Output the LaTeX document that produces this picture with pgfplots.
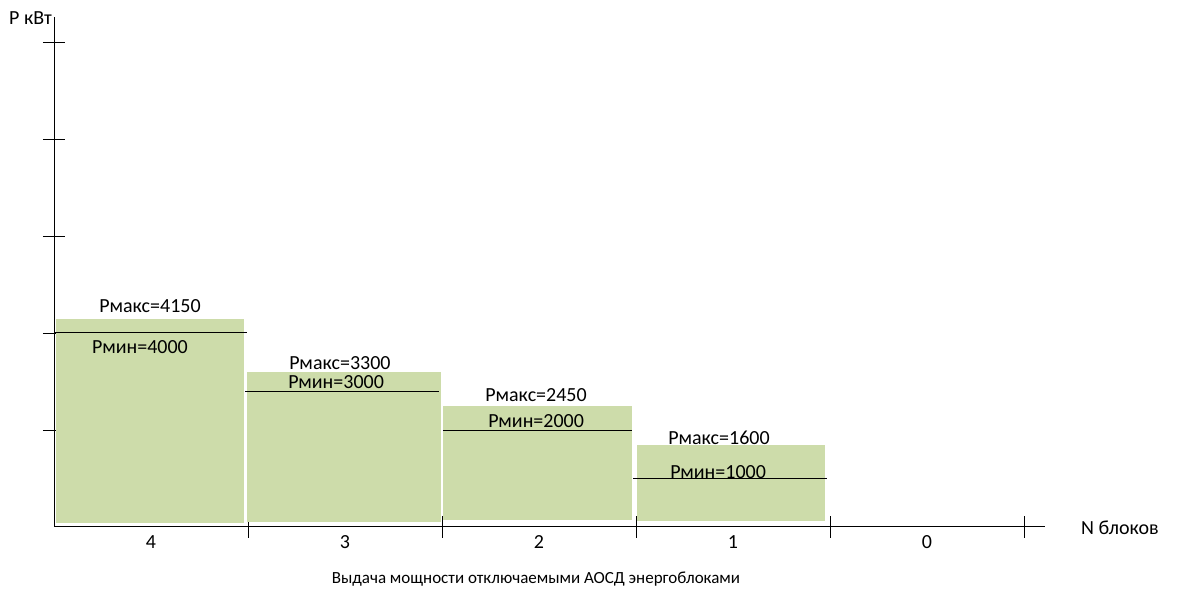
\documentclass[border=0pt]{standalone}
\usepackage{pgfplots}
\pgfplotsset{compat=1.18}
\usepackage{fontspec}
\setmainfont{Carlito}
\definecolor{barg}{RGB}{205,220,170}
\begin{document}
\begin{tikzpicture}[font=\fontsize{20}{24}\selectfont]
\useasboundingbox (0,0) rectangle (1179pt,595pt);
\begin{axis}[
 at={(54pt,68pt)}, anchor=south west,
 scale only axis, width=991pt, height=510pt,
 xmin=0, xmax=5.108, ymin=0, ymax=10515,
 scaled y ticks=false, scaled x ticks=false,
 axis x line*=bottom, axis y line*=left,
 axis line style={black, line width=1pt},
 xtick={1,2,3,4,5}, xticklabels={},
 ytick={2000,4000,6000,8000,10000}, yticklabels={},
 tick align=center, major tick length=22pt,
 tick style={black, line width=0.8pt},
 extra x ticks={0.5,1.5,2.5,3.5,4.5},
 extra x tick labels={4,3,2,1,0},
 extra x tick style={major tick length=0pt, tick label style={yshift=-5pt}},
 no markers,
 clip=false,
]
\addplot[fill=barg, draw=none] coordinates {(0.01,82)(0.98,82)(0.98,4290)(0.01,4290)};
\addplot[fill=barg, draw=none] coordinates {(0.995,103)(1.995,103)(1.995,3196)(0.995,3196)};
\addplot[fill=barg, draw=none] coordinates {(2.005,144)(2.979,144)(2.979,2495)(2.005,2495)};
\addplot[fill=barg, draw=none] coordinates {(3.005,124)(3.974,124)(3.974,1691)(3.005,1691)};
\addplot[black, line width=1pt] coordinates {(0,4000)(0.995,4000)};
\addplot[black, line width=1pt] coordinates {(0.985,2784)(1.985,2784)};
\addplot[black, line width=1pt] coordinates {(2.005,1980)(2.98,1980)};
\addplot[black, line width=1pt] coordinates {(2.985,990)(3.985,990)};
\node at (axis cs:0.495,4557) {Рмакс=4150};
\node at (axis cs:0.443,3711) {Рмин=4000};
\node at (axis cs:1.474,3381) {Рмакс=3300};
\node at (axis cs:1.454,2990) {Рмин=3000};
\node at (axis cs:2.485,2722) {Рмакс=2450};
\node at (axis cs:2.485,2186) {Рмин=2000};
\node at (axis cs:3.428,1835) {Рмакс=1600};
\node at (axis cs:3.423,1134) {Рмин=1000};
\end{axis}
\node at (30.5pt,577pt) {P кВт};
\node at (1120pt,67pt) {N блоков};
\node[font=\fontsize{17}{20}\selectfont] at (536pt,16pt) {Выдача мощности отключаемыми АОСД энергоблоками};
\end{tikzpicture}
\end{document}
